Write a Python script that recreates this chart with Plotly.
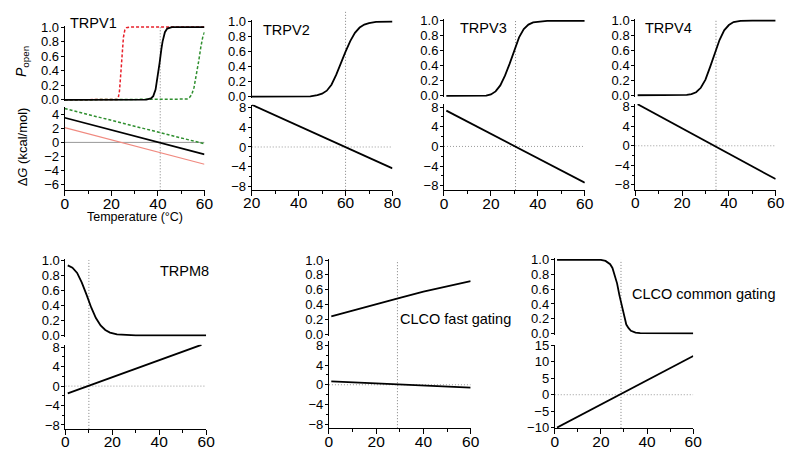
import plotly.graph_objects as go

W, H = 800, 464
FONT = "Arial, Liberation Sans, Helvetica, sans-serif"

# ------------------------- data -------------------------
# TRPV1: open probability (black = control, red / green = shifted conditions)
trpv1_T = [0, 30, 35, 37, 38, 39, 40, 40.7, 41.5, 42, 43, 44, 46, 50, 60]
trpv1_P = [0, 0, 0.003, 0.02, 0.05, 0.14, 0.33, 0.5, 0.7, 0.8, 0.93, 0.98, 1.0, 1.0, 1.0]
trpv1_red_T = [0, 20, 22.5, 23, 23.5, 24, 24.3, 24.7, 25.2, 25.8, 26.5, 28, 60]
trpv1_red_P = [0, 0, 0.005, 0.03, 0.12, 0.33, 0.5, 0.7, 0.86, 0.96, 0.99, 1, 1]
trpv1_green_T = [0, 48, 51, 52.5, 53.5, 54.5, 55.5, 56.5, 57.5, 58.5, 59.3, 60]
trpv1_green_P = [0, 0, 0.003, 0.01, 0.03, 0.07, 0.17, 0.33, 0.53, 0.74, 0.87, 0.93]
trpv1_dG_T = [0, 60]
trpv1_dG = [3.5, -1.7]
trpv1_red_dG = [2.1, -3.1]
trpv1_green_dG = [4.8, -0.2]

# TRPV2
trpv2_T = [20, 40, 45, 48, 50, 52, 54, 56, 58, 60, 62, 64, 66, 68, 70, 73, 80]
trpv2_P = [0, 0, 0.005, 0.02, 0.04, 0.08, 0.16, 0.29, 0.45, 0.6, 0.74, 0.85, 0.92, 0.96, 0.98, 0.995, 1.0]
trpv2_dG_T = [20, 80]
trpv2_dG = [8.5, -4.3]

# TRPV3
trpv3_T = [1, 15, 18, 20, 22, 24, 26, 28, 30, 32, 34, 36, 38, 40, 44, 60]
trpv3_P = [0, 0, 0.005, 0.02, 0.06, 0.14, 0.27, 0.43, 0.62, 0.78, 0.89, 0.95, 0.98, 0.99, 1.0, 1.0]
trpv3_dG_T = [1, 60]
trpv3_dG = [7.3, -7.4]

# TRPV4
trpv4_T = [1, 18, 22, 24, 26, 28, 30, 32, 34, 36, 38, 40, 42, 45, 50, 60]
trpv4_P = [0, 0, 0.005, 0.015, 0.04, 0.1, 0.21, 0.38, 0.56, 0.74, 0.87, 0.94, 0.98, 0.995, 1.0, 1.0]
trpv4_dG_T = [1, 60]
trpv4_dG = [8.5, -6.8]

# TRPM8
trpm8_T = [1, 3, 5, 7, 9, 11, 13, 15, 17, 19, 22, 26, 30, 60]
trpm8_P = [0.93, 0.9, 0.83, 0.7, 0.54, 0.37, 0.23, 0.13, 0.07, 0.035, 0.012, 0.003, 0, 0]
trpm8_dG_T = [1, 58]
trpm8_dG = [-1.5, 8.5]

# CLC-0 fast gating
clcf_T = [1, 10, 20, 30, 40, 50, 60]
clcf_P = [0.24, 0.32, 0.405, 0.49, 0.575, 0.65, 0.715]
clcf_dG_T = [1, 60]
clcf_dG = [0.7, -0.6]

# CLC-0 common gating
clcc_T = [1, 20, 22, 24, 25, 26, 27, 28, 29, 30, 31, 32, 33, 35, 37, 60]
clcc_P = [1.0, 1.0, 0.985, 0.94, 0.89, 0.8, 0.68, 0.52, 0.37, 0.22, 0.12, 0.07, 0.035, 0.01, 0.002, 0]
clcc_dG_T = [1, 60]
clcc_dG = [-10, 11.8]

# threshold temperatures (vertical dotted lines)
thresholds = [41, 60, 30.5, 34.5, 10, 29, 28.7]
labels = ["TRPV1", "TRPV2", "TRPV3", "TRPV4", "TRPM8", "CLCO fast gating", "CLCO common gating"]

# ------------------------- layout geometry (pixels) -------------------------
panels = [
    dict(x=(57, 200), xr=(0, 60), top=(20.7, 95.7), bot=(103.3, 189.0), br=(-6.8, 5.0), bd=2, bminor=None,
         lab=(60, 16.5), vtop=20.7, solidzero=True),
    dict(x=(248.3, 392.3), xr=(20, 80), top=(15, 92.5), bot=(100.7, 188.5), br=(-8.6, 8.5), bd=4, bminor=2,
         lab=(258, 24), vtop=5),
    dict(x=(445, 589), xr=(0, 60), top=(14.3, 91.7), bot=(100, 188.8), br=(-8.9, 8.65), bd=4, bminor=2,
         lab=(459, 22), vtop=14.3),
    dict(x=(640.7, 784.3), xr=(0, 60), top=(14, 91), bot=(100, 188.5), br=(-9.0, 8.55), bd=4, bminor=2,
         lab=(649, 21.7), vtop=14),
    dict(x=(57.7, 201.7), xr=(0, 60), top=(261, 338.5), bot=(348.3, 435), br=(-8.8, 8.5), bd=4, bminor=2,
         lab=(152, 271.7), vtop=261),
    dict(x=(327.3, 472.3), xr=(0, 60), top=(261, 337.3), bot=(344, 434.3), br=(-8.84, 8.98), bd=4, bminor=2,
         lab=(398, 321.7), vtop=261),
    dict(x=(558.3, 700), xr=(0, 60), top=(260.7, 336.5), bot=(348.3, 434), br=(-10.1, 15.2), bd=5, bminor=None,
         lab=(635, 295.7), vtop=260.7),
]

p_series = [
    [(trpv1_red_T, trpv1_red_P, "#e8202a", "3px,2px", 1.5),
     (trpv1_green_T, trpv1_green_P, "#2f8f2f", "3px,2px", 1.5),
     (trpv1_T, trpv1_P, "black", "solid", 1.8)],
    [(trpv2_T, trpv2_P, "black", "solid", 1.8)],
    [(trpv3_T, trpv3_P, "black", "solid", 1.8)],
    [(trpv4_T, trpv4_P, "black", "solid", 1.8)],
    [(trpm8_T, trpm8_P, "black", "solid", 1.8)],
    [(clcf_T, clcf_P, "black", "solid", 1.8)],
    [(clcc_T, clcc_P, "black", "solid", 1.8)],
]
g_series = [
    [(trpv1_dG_T, trpv1_red_dG, "#f08a80", "solid", 1.2),
     (trpv1_dG_T, trpv1_green_dG, "#2f8f2f", "3px,2px", 1.5),
     (trpv1_dG_T, trpv1_dG, "black", "solid", 1.8)],
    [(trpv2_dG_T, trpv2_dG, "black", "solid", 1.8)],
    [(trpv3_dG_T, trpv3_dG, "black", "solid", 1.8)],
    [(trpv4_dG_T, trpv4_dG, "black", "solid", 1.8)],
    [(trpm8_dG_T, trpm8_dG, "black", "solid", 1.8)],
    [(clcf_dG_T, clcf_dG, "black", "solid", 1.8)],
    [(clcc_dG_T, clcc_dG, "black", "solid", 1.8)],
]


def axname(a, n):
    return f"{a}axis" if n == 1 else f"{a}axis{n}"


def ref(a, n):
    return a if n == 1 else f"{a}{n}"


def py(p):
    return 1 - p / H


fig = go.Figure()
layout = dict(width=W, height=H, margin=dict(l=0, r=0, t=0, b=0), showlegend=False,
              paper_bgcolor="white", plot_bgcolor="white", font=dict(family=FONT, color="black"))
shapes, annotations = [], []

for i, pn in enumerate(panels):
    nt, nb = 2 * i + 1, 2 * i + 2
    xdom = [pn["x"][0] / W, pn["x"][1] / W]
    y1px, y0px = pn["top"]
    ppu = y0px - y1px
    tdom = [py(y0px + 0.02 * ppu), py(y1px - 0.02 * ppu)]
    bdom = [py(pn["bot"][1]), py(pn["bot"][0])]

    common_y = dict(showline=True, linecolor="black", linewidth=1, ticks="outside", ticklen=3,
                    tickcolor="black", showgrid=False, zeroline=False, ticklabelstandoff=-1,
                    tickfont=dict(size=13, family=FONT))
    layout[axname("x", nt)] = dict(domain=xdom, range=list(pn["xr"]), visible=False,
                                   anchor=ref("y", nt), showgrid=False, zeroline=False)
    layout[axname("y", nt)] = dict(domain=tdom, range=[-0.02, 1.02], anchor=ref("x", nt),
                                   tickvals=[0, 0.2, 0.4, 0.6, 0.8, 1.0],
                                   ticktext=["0.0", "0.2", "0.4", "0.6", "0.8", "1.0"], **common_y)
    layout[axname("x", nb)] = dict(domain=xdom, range=list(pn["xr"]), anchor=ref("y", nb),
                                   showline=True, linecolor="black", linewidth=1, ticks="outside",
                                   ticklen=5, tickcolor="black", dtick=20, tick0=0, ticklabelstandoff=-6,
                                   minor=dict(dtick=10, tick0=0, ticks="outside", ticklen=3, tickcolor="black"),
                                   showgrid=False, zeroline=False, tickfont=dict(size=15.5, family=FONT))
    ydict = dict(domain=bdom, range=list(pn["br"]), anchor=ref("x", nb), dtick=pn["bd"], tick0=0, **common_y)
    if pn["bminor"]:
        ydict["minor"] = dict(dtick=pn["bminor"], tick0=0, ticks="outside", ticklen=2, tickcolor="black")
    layout[axname("y", nb)] = ydict

    for (T, P, col, dash, lw) in p_series[i]:
        fig.add_trace(go.Scatter(x=T, y=P, mode="lines", xaxis=ref("x", nt), yaxis=ref("y", nt),
                                 line=dict(color=col, dash=dash, width=lw), hoverinfo="skip"))
    for (T, G, col, dash, lw) in g_series[i]:
        fig.add_trace(go.Scatter(x=T, y=G, mode="lines", xaxis=ref("x", nb), yaxis=ref("y", nb),
                                 line=dict(color=col, dash=dash, width=lw), hoverinfo="skip"))

    # zero line in the dG plot
    shapes.append(dict(type="line", xref=ref("x", nb), yref=ref("y", nb), x0=pn["xr"][0], x1=pn["xr"][1],
                       y0=0, y1=0, layer="below",
                       line=dict(color="#999999", width=1,
                                 dash="solid" if pn.get("solidzero") else "1px,2px")))
    # vertical threshold line across both plots
    shapes.append(dict(type="line", xref=ref("x", nb), yref="paper", x0=thresholds[i], x1=thresholds[i],
                       y0=py(pn["bot"][1]), y1=py(pn["vtop"]), layer="below",
                       line=dict(color="#808080", width=1, dash="1px,2px")))
    annotations.append(dict(text=labels[i], xref="paper", yref="paper", x=pn["lab"][0] / W, y=py(pn["lab"][1]),
                            xanchor="left", yanchor="middle", showarrow=False,
                            font=dict(size=14.5, family=FONT, color="black")))

# axis titles (TRPV1 panel)
annotations.append(dict(text="<i>P</i><sub>open</sub>", xref="paper", yref="paper", x=14 / W, y=py(56),
                        xanchor="center", yanchor="middle", textangle=-90, showarrow=False,
                        font=dict(size=14, family=FONT)))
annotations.append(dict(text="Δ<i>G</i> (kcal/mol)", xref="paper", yref="paper", x=14 / W, y=py(144),
                        xanchor="center", yanchor="middle", textangle=-90, showarrow=False,
                        font=dict(size=13, family=FONT)))
annotations.append(dict(text="Temperature (°C)", xref="paper", yref="paper", x=129 / W, y=py(217),
                        xanchor="center", yanchor="middle", showarrow=False,
                        font=dict(size=12.5, family=FONT)))

layout["shapes"] = shapes
layout["annotations"] = annotations
fig.update_layout(**layout)
fig.write_html("out.html", config={"displayModeBar": False},
               post_script="document.body.style.margin='0px';document.body.style.overflow='hidden';")
